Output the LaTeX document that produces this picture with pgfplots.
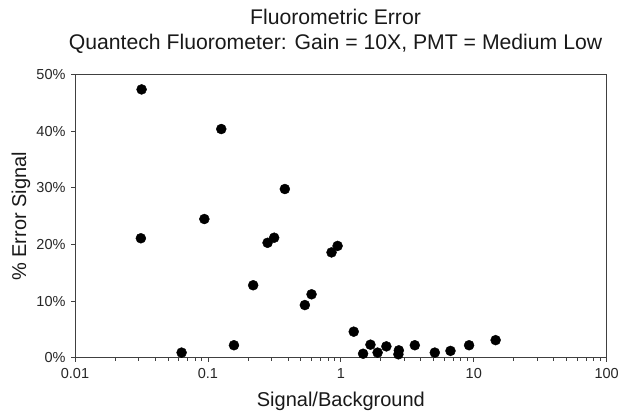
\documentclass[border=0pt]{standalone}
\usepackage{pgfplots}
\pgfplotsset{compat=1.18}
\usepackage{fontspec}
\setmainfont{Liberation Sans}
\begin{document}
\begin{tikzpicture}
\path[use as bounding box] (0,0) rectangle (621pt,411pt);
\begin{axis}[
  at={(75pt,53.3pt)}, anchor=south west,
  scale only axis, width=531.7pt, height=283pt,
  xmode=log, xmin=0.01, xmax=100, ymin=0, ymax=50,
  xtick={0.01,0.1,1,10,100}, xticklabels={0.01,0.1,1,10,100},
  minor xtick={},
  ytick={0,10,20,30,40,50},
  yticklabel={\pgfmathprintnumber{\tick}\%},
  /pgf/number format/assume math mode=true,
  tick align=outside, major tick length=4pt,
  xtick pos=bottom, ytick pos=left,
  tick style={color=black!75, line width=0.8pt},
  axis line style={color=black!75, line width=0.8pt},
  ticklabel style={font=\fontsize{14.5}{17}\selectfont, color=black!85},
  xticklabel style={yshift=-3pt},
  yticklabel style={xshift=-2pt},
  xlabel={Signal/Background},
  ylabel={\% Error Signal},
  label style={font=\fontsize{20}{24}\selectfont, color=black!90},
  xlabel style={at={(0.5,0)}, anchor=center, yshift=-44pt},
  ylabel style={at={(0,0.5)}, anchor=center, yshift=54pt},
  title={Fluorometric Error\\Quantech Fluorometer: Gain = 10X, PMT = Medium Low},
  title style={font=\fontsize{21.2}{25}\selectfont, align=center, at={(0.49,1)}, anchor=south, yshift=12pt, color=black!90},
  clip=false,
]
\addplot[only marks, mark=*, mark size=5pt, color=black] coordinates {
(0.0317,47.4) (0.0313,21.1) (0.126,40.4) (0.094,24.5) (0.379,29.8)
(0.281,20.3) (0.315,21.2) (0.219,12.8) (0.536,9.3) (0.602,11.2)
(0.851,18.6) (0.945,19.75) (0.0634,0.9) (0.157,2.2) (1.25,4.6)
(1.47,0.7) (1.67,2.3) (1.89,0.9) (2.2,2.0) (2.73,1.3) (2.71,0.6)
(3.6,2.2) (5.09,0.9) (6.68,1.2) (9.22,2.2) (14.6,3.1)
};
\end{axis}
\end{tikzpicture}
\end{document}
